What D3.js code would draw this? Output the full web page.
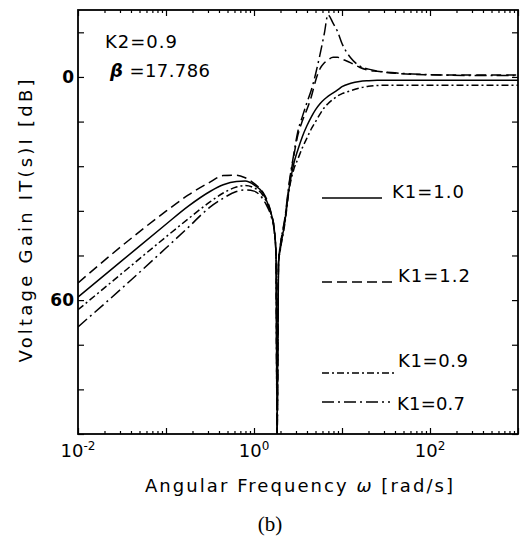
<!DOCTYPE html>
<html>
<head>
<meta charset="utf-8">
<script src="https://cdn.jsdelivr.net/npm/d3@7/dist/d3.min.js"></script>
<style>
  body { margin: 0; background: #fff; }
  text { font-family: "DejaVu Sans", "Liberation Sans", Arial, sans-serif; fill: #000; }
</style>
</head>
<body>
<div id="chart"></div>
<script>
// Angular frequency samples [rad/s]
const omega = [0.01, 0.0316, 0.1, 0.178, 0.316, 0.447, 0.631, 0.794, 1, 1.26,
  1.41, 1.58, 1.70, 1.78, 1.83, 1.90, 2.0, 2.24, 2.51, 2.82,
  3.16, 3.55, 3.98, 4.47, 5.01, 5.62, 6.31, 6.92, 7.94, 8.91,
  10, 12.6, 15.8, 20, 25.1, 39.8, 63.1, 100, 316, 1000];

// Voltage gain |T(s)| [dB] for each K1
const gainK1_10 = [-59.2, -49.4, -39.6, -34.8, -30.8, -29.0, -28.1, -28.0, -29.0, -31.2,
  -33.6, -37.0, -41.0, -48.0, -96, -50.0, -46.0, -39.0, -29.8, -23.5,
  -19.5, -16.0, -13.2, -10.8, -8.8, -7.2, -6.0, -5.2, -4.3, -3.5,
  -2.6, -1.7, -1.2, -1.0, -0.9, -0.9, -0.9, -0.9, -0.9, -0.9];
const gainK1_12 = [-55.4, -45.4, -36.1, -31.8, -28.3, -26.5, -26.4, -27.1, -28.6, -31.0,
  -33.2, -37.0, -41.0, -48.0, -96, -50.0, -45.0, -38.5, -29.0, -21.5,
  -15.5, -11.8, -8.8, -5.4, -1.0, 2.2, 3.8, 4.6, 5.3, 5.3,
  4.8, 3.8, 2.6, 1.8, 1.5, 1.0, 0.7, 0.6, 0.5, 0.5];
const gainK1_09 = [-62.6, -52.8, -43.0, -38.2, -33.6, -31.2, -29.6, -29.2, -29.8, -31.8,
  -34.0, -37.3, -41.2, -48.0, -96, -50.0, -46.2, -39.5, -30.3, -25.0,
  -22.0, -19.0, -16.5, -14.0, -12.0, -10.0, -8.2, -7.2, -6.0, -5.1,
  -4.5, -3.7, -3.0, -2.5, -2.3, -2.2, -2.2, -2.2, -2.2, -2.2];
const gainK1_07 = [-67.2, -56.8, -46.0, -40.5, -35.0, -32.6, -30.8, -30.4, -30.7, -32.8,
  -34.8, -37.8, -41.5, -48.0, -96, -50.0, -45.0, -38.0, -28.5, -21.0,
  -14.5, -10.6, -7.0, -3.6, 0.8, 6.0, 11.8, 16.7, 14.4, 12.2,
  9.0, 5.1, 3.0, 2.1, 1.6, 1.1, 0.8, 0.6, 0.4, 0.4];

const seriesNames = ['K1=1.0', 'K1=1.2', 'K1=0.9', 'K1=0.7'];
const seriesGains = [gainK1_10, gainK1_12, gainK1_09, gainK1_07];

// Tick values
const xMajorTicks = [1e-2, 1e-1, 1e0, 1e1, 1e2, 1e3];
const xTickLabels = [[1e-2, '-2'], [1e0, '0'], [1e2, '2']];
const yTicks = [-96, -84, -72, -60, -48, -36, -24, -12, 0, 12];
const yTickLabels = [[0, '0'], [-60, '60']];

const width = 520;
const height = 539;
const plot = { left: 78, top: 10, right: 518, bottom: 434 };

const svg = d3.select('#chart')
  .append('svg')
  .attr('width', width)
  .attr('height', height);

// Scales
const x = d3.scaleLog().domain([1e-2, 1e3]).range([plot.left, plot.right]);
const y = d3.scaleLinear().domain([-96, 18]).range([plot.bottom, plot.top]);

// Minor log ticks (2..9 in each decade)
const xMinorTicks = [];
for (let e = -2; e < 3; e++) {
  for (let m = 2; m <= 9; m++) xMinorTicks.push(m * Math.pow(10, e));
}

function styleAxis(g) {
  g.select('.domain').remove();
  g.selectAll('line').attr('stroke', '#000').attr('stroke-width', 1.2);
}

// Bottom + top axes (inward ticks)
svg.append('g').attr('transform', `translate(0,${plot.bottom})`)
  .call(d3.axisBottom(x).tickValues(xMajorTicks).tickSize(-6).tickFormat(''))
  .call(styleAxis);
svg.append('g').attr('transform', `translate(0,${plot.bottom})`)
  .call(d3.axisBottom(x).tickValues(xMinorTicks).tickSize(-3).tickFormat(''))
  .call(styleAxis);
svg.append('g').attr('transform', `translate(0,${plot.top})`)
  .call(d3.axisTop(x).tickValues(xMajorTicks).tickSize(-6).tickFormat(''))
  .call(styleAxis);
svg.append('g').attr('transform', `translate(0,${plot.top})`)
  .call(d3.axisTop(x).tickValues(xMinorTicks).tickSize(-3).tickFormat(''))
  .call(styleAxis);

// Left + right axes (inward ticks)
svg.append('g').attr('transform', `translate(${plot.left},0)`)
  .call(d3.axisLeft(y).tickValues(yTicks).tickSize(-6).tickFormat(''))
  .call(styleAxis);
svg.append('g').attr('transform', `translate(${plot.right},0)`)
  .call(d3.axisRight(y).tickValues(yTicks).tickSize(-6).tickFormat(''))
  .call(styleAxis);

// Frame
svg.append('rect')
  .attr('x', plot.left).attr('y', plot.top)
  .attr('width', plot.right - plot.left).attr('height', plot.bottom - plot.top)
  .attr('fill', 'none').attr('stroke', '#000').attr('stroke-width', 1.8);

// Tick labels
xTickLabels.forEach(([v, p]) => {
  const t = svg.append('text')
    .attr('x', x(v)).attr('y', 457)
    .attr('text-anchor', 'middle')
    .attr('font-size', 18);
  t.append('tspan').text('10');
  t.append('tspan').attr('dy', -7).attr('font-size', 12).text(p);
});
yTickLabels.forEach(([v, s]) => {
  svg.append('text')
    .attr('x', plot.left - 4).attr('y', y(v) + 6)
    .attr('text-anchor', 'end')
    .attr('font-size', 17)
    .attr('font-weight', 'bold')
    .text(s);
});

// Axis titles
const xt = svg.append('text')
  .attr('x', 299).attr('y', 492)
  .attr('text-anchor', 'middle')
  .attr('font-size', 18)
  .attr('textLength', 308).attr('lengthAdjust', 'spacing');
xt.append('tspan').text('Angular Frequency ');
xt.append('tspan').attr('font-style', 'italic').text('ω');
xt.append('tspan').text('   [rad/s]');

svg.append('text')
  .attr('transform', 'translate(32,221) rotate(-90)')
  .attr('text-anchor', 'middle')
  .attr('font-size', 18)
  .attr('textLength', 283).attr('lengthAdjust', 'spacing')
  .text('Voltage  Gain  IT(s)I  [dB]');

// Annotations
svg.append('text')
  .attr('x', 105).attr('y', 48)
  .attr('font-size', 18)
  .attr('textLength', 72).attr('lengthAdjust', 'spacing')
  .text('K2=0.9');
const bt = svg.append('text')
  .attr('x', 110).attr('y', 77)
  .attr('font-size', 18)
  .attr('textLength', 100).attr('lengthAdjust', 'spacing');
bt.append('tspan').attr('font-style', 'italic').attr('font-weight', 'bold').text('β');
bt.append('tspan').text(' =17.786');

// Caption
svg.append('text')
  .attr('x', 270).attr('y', 531)
  .attr('text-anchor', 'middle')
  .attr('font-size', 21)
  .style('font-family', '"Liberation Serif", "Times New Roman", serif')
  .text('(b)');

// Curves
svg.append('clipPath').attr('id', 'plot-clip')
  .append('rect')
  .attr('x', plot.left).attr('y', plot.top)
  .attr('width', plot.right - plot.left).attr('height', plot.bottom - plot.top);

const dashes = [null, '10,5', '7,3,2,3', '12,4,2,4'];

const line = d3.line()
  .x(d => x(d[0]))
  .y(d => y(d[1]))
  .curve(d3.curveMonotoneX);

svg.append('g')
  .attr('clip-path', 'url(#plot-clip)')
  .selectAll('path')
  .data(seriesGains)
  .enter()
  .append('path')
  .attr('d', g => line(omega.map((w, i) => [w, g[i]])))
  .attr('fill', 'none')
  .attr('stroke', '#000')
  .attr('stroke-width', 1.5)
  .attr('stroke-dasharray', (d, i) => dashes[i]);

// Legend (sample line + label)
const legend = [
  { x1: 322, x2: 382, ly: 198, tx: 392, ty: 198, len: 72 },
  { x1: 322, x2: 392, ly: 282, tx: 398, ty: 282, len: 72 },
  { x1: 322, x2: 397, ly: 373, tx: 398, ty: 367, len: 70 },
  { x1: 322, x2: 390, ly: 402, tx: 397, ty: 410, len: 68 }
];
legend.forEach((p, i) => {
  svg.append('line')
    .attr('x1', p.x1).attr('x2', p.x2)
    .attr('y1', p.ly).attr('y2', p.ly)
    .attr('stroke', '#000').attr('stroke-width', 1.5)
    .attr('stroke-dasharray', dashes[i]);
  svg.append('text')
    .attr('x', p.tx).attr('y', p.ty)
    .attr('font-size', 18)
    .attr('textLength', p.len).attr('lengthAdjust', 'spacing')
    .text(seriesNames[i]);
});
</script>
</body>
</html>
